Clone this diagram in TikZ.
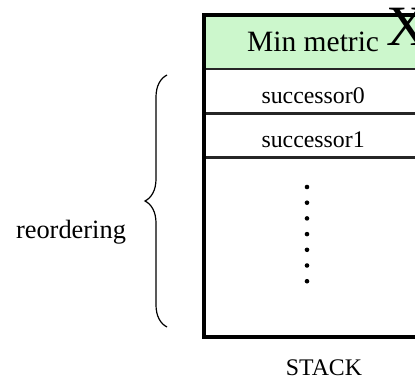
\documentclass[tikz,border=0pt]{standalone}
\usepackage{fontspec}
\setmainfont{Liberation Serif}
\usetikzlibrary{positioning,decorations.pathreplacing}
\definecolor{headgreen}{RGB}{204,247,204}
\begin{document}
\begin{tikzpicture}
[x=1pt,y=-1pt,
 cell/.style={draw=black!85,line width=1.2pt,minimum width=217pt,inner sep=0pt},
 small/.style={font=\fontsize{23.8}{24}\selectfont},
 big/.style={font=\fontsize{29.5}{30}\selectfont}]
    \clip (0,0) rectangle (415,383);
    \node[cell,big,fill=headgreen,minimum height=53pt,anchor=north west] (head) at (204,15) {Min metric};
    \node[cell,small,minimum height=43pt,text height=24.4pt,text depth=0pt,below=0pt of head] (succ0) {successor0};
    \node[cell,small,minimum height=43pt,text height=24.4pt,text depth=0pt,below=0pt of succ0] (succ1) {successor1};
    \node[cell,minimum height=178pt,below=0pt of succ1] (rest) {};
    \draw[line width=4pt] (head.north east) -- (head.north west) -- (rest.south west) -- (rest.south east);
    \node[anchor=base west,inner sep=0pt,font=\fontsize{57}{57}\selectfont] (xsym) at (386,45) {X};
    \foreach \i in {0,...,6}
        \fill (307,{187+15.7*\i}) circle (2.3pt);
    \node[small,anchor=base] (stack) at (324,375) {STACK};
    % brace on the left
    \coordinate (bTop) at (167,75);
    \coordinate (bBot) at (167,327);
    \draw[line width=1.2pt,decorate,decoration={brace,amplitude=22pt}] (bBot) -- (bTop);
    \node[font=\fontsize{26.4}{27}\selectfont,anchor=base] (reord) at (71,238) {reordering};
\end{tikzpicture}
\end{document}
